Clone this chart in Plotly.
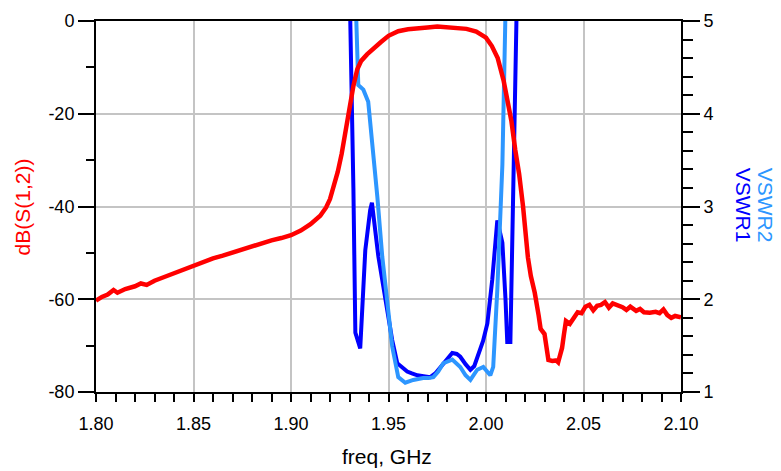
import plotly.graph_objects as go

# dB(S(1,2))
freq_s12 = [1.800, 1.803, 1.806, 1.809, 1.811, 1.815, 1.820, 1.823, 1.826, 1.830,
            1.835, 1.840, 1.845, 1.850, 1.855, 1.860, 1.865, 1.870, 1.875, 1.880,
            1.885, 1.890, 1.895, 1.900, 1.905, 1.910, 1.915, 1.918, 1.920, 1.922,
            1.924, 1.926, 1.928, 1.930, 1.932, 1.934, 1.936, 1.939, 1.942, 1.946,
            1.950, 1.955, 1.960, 1.965, 1.970, 1.975, 1.980, 1.985, 1.990, 1.995,
            2.000, 2.003, 2.006, 2.009, 2.011, 2.013, 2.015, 2.017, 2.019, 2.020,
            2.0215, 2.023, 2.025, 2.027, 2.028, 2.030, 2.031, 2.032, 2.034, 2.036,
            2.037, 2.039, 2.040, 2.041, 2.043, 2.045, 2.047, 2.049, 2.051, 2.053,
            2.055, 2.057, 2.059, 2.061, 2.063, 2.065, 2.068, 2.070, 2.072, 2.074,
            2.077, 2.079, 2.081, 2.084, 2.087, 2.089, 2.091, 2.093, 2.095, 2.097,
            2.100]
db_s12 = [-60.3, -59.5, -59.0, -58.0, -58.6, -57.8, -57.2, -56.6, -56.9, -56.0,
          -55.2, -54.4, -53.5, -52.7, -51.9, -51.2, -50.6, -49.9, -49.2, -48.6,
          -47.9, -47.3, -46.8, -46.2, -45.2, -43.8, -42.0, -40.2, -38.4, -35.8,
          -32.5, -28.6, -23.8, -18.5, -14.0, -10.4, -8.6, -7.2, -6.0, -4.6,
          -3.2, -2.2, -1.8, -1.5, -1.4, -1.2, -1.3, -1.4, -1.7, -2.3,
          -3.6, -5.4, -8.0, -12.8, -17.0, -21.5, -27.8, -33.0, -40.0, -45.0,
          -51.0, -55.0, -58.6, -63.5, -66.4, -67.5, -70.0, -73.1, -73.3, -73.2,
          -73.6, -70.5, -67.5, -64.7, -65.3, -64.0, -62.8, -63.0, -61.6, -61.2,
          -62.4, -61.4, -61.2, -60.6, -61.8, -60.9, -61.4, -61.7, -62.3, -61.6,
          -62.5, -62.1, -62.8, -62.9, -62.7, -63.0, -62.2, -63.4, -64.0, -63.6,
          -63.9]

# VSWR1
freq_v1 = [1.9300, 1.9304, 1.9320, 1.9330, 1.9355, 1.9381, 1.9406, 1.9415, 1.9448,
           1.9484, 1.9519, 1.9545, 1.9570, 1.9596, 1.9620, 1.9648, 1.9680, 1.9714,
           1.9740, 1.9766, 1.9800, 1.9827, 1.9850, 1.9868, 1.9895, 1.9920, 1.9940,
           1.9961, 1.9985, 2.0007, 2.0032, 2.0058, 2.0084, 2.0100, 2.0109, 2.0125,
           2.0140, 2.0150, 2.0161, 2.0165]
vswr1 = [6.0, 5.0, 3.2, 1.64, 1.47, 2.53, 2.96, 3.04, 2.46,
         1.99, 1.56, 1.31, 1.26, 1.22, 1.20, 1.18, 1.17, 1.16,
         1.20, 1.27, 1.36, 1.42, 1.41, 1.38, 1.30, 1.24, 1.28,
         1.42, 1.55, 1.74, 2.21, 2.85, 2.61, 2.0, 1.54, 1.54,
         3.18, 3.99, 5.0, 6.0]

# VSWR2
freq_v2 = [1.9333, 1.9335, 1.9345, 1.9371, 1.9396, 1.9417, 1.9443, 1.9468, 1.9494,
           1.9519, 1.9550, 1.9586, 1.9627, 1.9650, 1.9678, 1.9705, 1.9730, 1.9755,
           1.9781, 1.9827, 1.9868, 1.9895, 1.9920, 1.9955, 1.9986, 2.0022, 2.0037,
           2.0058, 2.0073, 2.0084, 2.0099, 2.0101]
vswr2 = [6.0, 5.0, 4.31, 4.26, 4.13, 3.70, 3.10, 2.46, 1.92,
         1.49, 1.16, 1.10, 1.13, 1.14, 1.15, 1.15, 1.16, 1.22,
         1.31, 1.35, 1.27, 1.18, 1.13, 1.24, 1.27, 1.18, 1.27,
         2.10, 3.0, 3.45, 5.0, 6.0]

# left axis ticks (plain hyphen like the original, not the unicode minus)
db_ticks = [0, -20, -40, -60, -80]
db_labels = ["0", "-20", "-40", "-60", "-80"]

RED = "#ff0000"
DARK_BLUE = "#0000ff"
LIGHT_BLUE = "#2d96ff"
GRID = "#c4c4c4"
FONT = "Liberation Sans, Arial, sans-serif"

fig = go.Figure()
fig.add_trace(go.Scatter(x=freq_v1, y=vswr1, mode="lines", yaxis="y",
                         line=dict(color=DARK_BLUE, width=4)))
fig.add_trace(go.Scatter(x=freq_v2, y=vswr2, mode="lines", yaxis="y",
                         line=dict(color=LIGHT_BLUE, width=4)))
fig.add_trace(go.Scatter(x=freq_s12, y=db_s12, mode="lines", yaxis="y2",
                         line=dict(color=RED, width=4.5)))

# page body has an 8px margin, so the figure is a bit smaller than the window
fig.update_layout(
    width=773, height=463,
    margin=dict(l=88, r=100, t=13, b=79),
    paper_bgcolor="white", plot_bgcolor="white",
    showlegend=False, hovermode=False,
    font=dict(family=FONT, size=18, color="black"),
    xaxis=dict(range=[1.8, 2.1], tick0=1.8, dtick=0.05, tickformat=".2f",
               ticks="outside", ticklen=8, tickwidth=1.5, tickcolor="black",
               showgrid=True, gridcolor=GRID, gridwidth=1.5, zeroline=False,
               showline=True, linecolor="black", linewidth=2, mirror=True,
               ticklabelstandoff=6, automargin=False,
               minor=dict(dtick=0.01, ticks="outside", ticklen=8, tickwidth=1.5,
                          tickcolor="black", showgrid=False)),
    yaxis=dict(range=[1, 5], dtick=1, side="right",
               ticks="outside", ticklen=17, tickwidth=1.5, tickcolor="black",
               showgrid=True, gridcolor=GRID, gridwidth=1.5, zeroline=False,
               showline=True, linecolor="black", linewidth=2,
               ticklabelstandoff=0, automargin=False,
               minor=dict(dtick=0.2, ticks="outside", ticklen=10, tickwidth=1.5,
                          tickcolor="black", showgrid=False)),
    yaxis2=dict(range=[-80, 0], tickmode="array", tickvals=db_ticks,
                ticktext=db_labels, side="left", overlaying="y",
                ticks="outside", ticklen=16, tickwidth=1.5, tickcolor="black",
                showgrid=False, zeroline=False,
                showline=True, linecolor="black", linewidth=2,
                ticklabelstandoff=0, automargin=False,
                minor=dict(dtick=10, ticks="outside", ticklen=8, tickwidth=1.5,
                           tickcolor="black", showgrid=False)),
)

fig.add_annotation(text="freq, GHz", xref="paper", yref="paper",
                   x=0.4966, y=-0.175, xanchor="center", yanchor="middle",
                   showarrow=False, font=dict(size=21, color="black"))
fig.add_annotation(text="dB(S(1,2))", xref="paper", yref="paper",
                   x=-0.125, y=0.5, xanchor="center", yanchor="middle",
                   textangle=-90, showarrow=False,
                   font=dict(size=21, color=RED))
fig.add_annotation(text="VSWR2", xref="paper", yref="paper",
                   x=1.1436, y=0.505, xanchor="center", yanchor="middle",
                   textangle=90, showarrow=False,
                   font=dict(size=21, color=LIGHT_BLUE))
fig.add_annotation(text="VSWR1", xref="paper", yref="paper",
                   x=1.106, y=0.505, xanchor="center", yanchor="middle",
                   textangle=90, showarrow=False,
                   font=dict(size=21, color=DARK_BLUE))

fig.write_html("out.html")
